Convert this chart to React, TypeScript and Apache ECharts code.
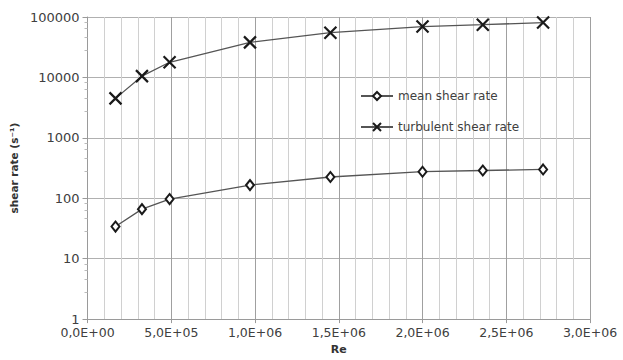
import React, { useEffect, useRef } from "react";
import * as echarts from "echarts";

const reValues = [1.67e5, 3.25e5, 4.9e5, 9.7e5, 1.45e6, 2.0e6, 2.36e6, 2.72e6];
const meanShear = [34, 66, 97, 165, 225, 275, 288, 300];
const turbulentShear = [4500, 10500, 17800, 38000, 55000, 69500, 74500, 81000];
const seriesNames = ["mean shear rate", "turbulent shear rate"];

const fmtX = (v: number) => {
  if (v === 0) return "0,0E+00";
  const e = Math.floor(Math.log10(v) + 1e-9);
  const m = v / Math.pow(10, e);
  return m.toFixed(1).replace(".", ",") + "E+" + String(e).padStart(2, "0");
};

export default function App() {
  const ref = useRef<HTMLDivElement>(null);
  useEffect(() => {
    if (!ref.current) return;
    const chart = echarts.init(ref.current, undefined, { renderer: "svg" });
    const font = "DejaVu Sans";
    chart.setOption({
      animation: false,
      backgroundColor: "#ffffff",
      grid: { left: 87, right: 33, top: 17, bottom: 38, containLabel: false },
      legend: {
        orient: "vertical",
        left: 355,
        top: 85,
        itemWidth: 32,
        itemHeight: 10,
        itemGap: 19,
        textStyle: { fontFamily: font, fontSize: 12, color: "#404040" },
        data: seriesNames,
      },
      xAxis: {
        type: "value",
        min: 0,
        max: 3e6,
        interval: 5e5,
        name: "Re",
        nameLocation: "middle",
        nameGap: 24,
        nameTextStyle: { fontFamily: font, fontSize: 11, fontWeight: "bold", color: "#333" },
        axisLine: { show: true, lineStyle: { color: "#9a9a9a" } },
        axisTick: { show: true, length: 4, lineStyle: { color: "#9a9a9a" } },
        axisLabel: { fontFamily: font, fontSize: 12.5, color: "#404040", formatter: fmtX, margin: 7 },
        splitLine: { show: true, lineStyle: { color: "#a0a0a0", width: 1 } },
        minorTick: { show: false, splitNumber: 5 },
        minorSplitLine: { show: true, lineStyle: { color: "#d0d0d0", width: 1 } },
      },
      yAxis: {
        type: "log",
        logBase: 10,
        min: 1,
        max: 100000,
        name: "shear rate (s\u207B\u00B9)",
        nameLocation: "middle",
        nameRotate: 90,
        nameGap: 64,
        nameTextStyle: { fontFamily: font, fontSize: 10.5, fontWeight: "bold", color: "#333" },
        axisLine: { show: true, lineStyle: { color: "#9a9a9a" } },
        axisTick: { show: true, length: 5, lineStyle: { color: "#9a9a9a" } },
        minorTick: { show: true, splitNumber: 5, length: 3, lineStyle: { color: "#bbbbbb" } },
        axisLabel: {
          fontFamily: font,
          fontSize: 13,
          color: "#404040",
          margin: 8,
          formatter: (v: number) => String(Math.round(v)),
        },
        splitLine: { show: true, lineStyle: { color: "#b0b0b0", width: 1 } },
      },
      series: [
        {
          name: seriesNames[0],
          type: "line",
          data: reValues.map((x, i) => [x, meanShear[i]]),
          symbol: "diamond",
          symbolSize: [8, 10],
          lineStyle: { color: "#555555", width: 1.3 },
          itemStyle: { color: "#ffffff", borderColor: "#1a1a1a", borderWidth: 2 },
        },
        {
          name: seriesNames[1],
          type: "line",
          data: reValues.map((x, i) => [x, turbulentShear[i]]),
          symbol: "path://M0,0L10,10M10,0L0,10",
          symbolSize: 12,
          lineStyle: { color: "#555555", width: 1.3 },
          itemStyle: { color: "transparent", borderColor: "#1a1a1a", borderWidth: 2.2 },
        },
      ],
    });
    return () => chart.dispose();
  }, []);
  return <div ref={ref} style={{ width: 623, height: 360, position: "absolute", left: 0, top: 0 }} />;
}
